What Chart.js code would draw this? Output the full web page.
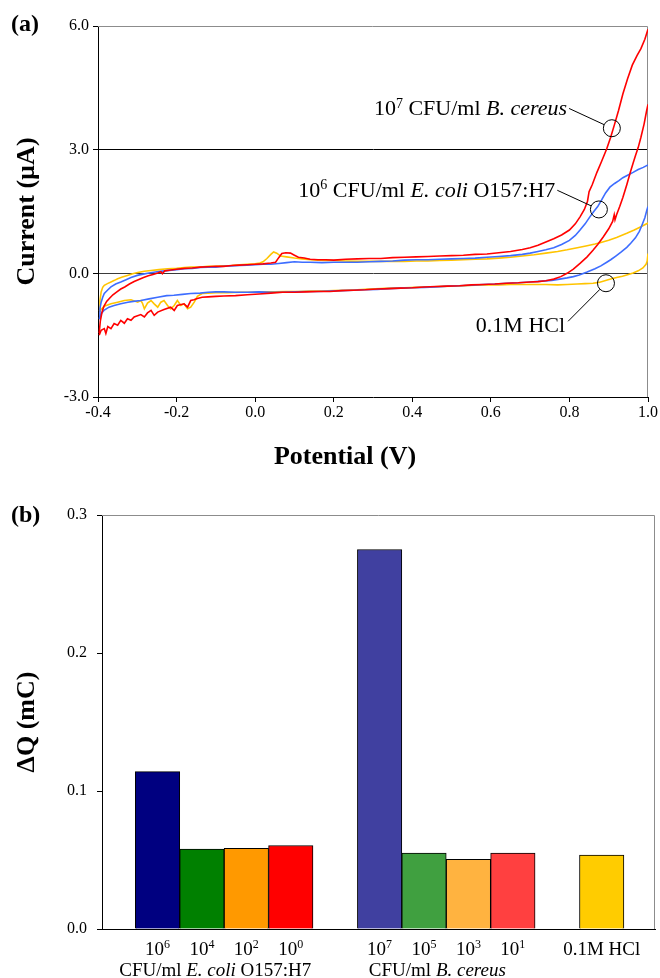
<!DOCTYPE html>
<html>
<head>
<meta charset="utf-8">
<script src="https://cdn.jsdelivr.net/npm/chart.js@4.4.1/dist/chart.umd.min.js"></script>
<style>
  body { margin: 0; background: #fff; }
  canvas { display: block; }
</style>
</head>
<body>
<canvas id="cv-chart" width="660" height="475"></canvas>
<canvas id="charge-chart" width="660" height="503"></canvas>
<script>
// --- CYCLIC VOLTAMMOGRAMS: [potential (V), current (uA)] ---
// forward = anodic sweep (upper trace), reverse = return sweep (lower trace)
const bCereusForward = [
  [-0.397,-1.45],[-0.394,-1.15],[-0.390,-0.95],[-0.385,-0.80],[-0.378,-0.68],[-0.370,-0.60],[-0.362,-0.52],
  [-0.352,-0.45],[-0.342,-0.38],[-0.332,-0.33],[-0.320,-0.26],[-0.308,-0.20],[-0.296,-0.15],[-0.284,-0.10],
  [-0.272,-0.06],[-0.260,-0.03],[-0.248,0.01],[-0.240,0.04],[-0.236,-0.01],[-0.230,0.06],[-0.215,0.08],
  [-0.200,0.10],[-0.180,0.12],[-0.160,0.13],[-0.140,0.15],[-0.120,0.16],[-0.100,0.17],[-0.080,0.17],
  [-0.060,0.19],[-0.040,0.20],[-0.020,0.21],[0.000,0.22],[0.020,0.23],[0.040,0.25],[0.052,0.27],
  [0.060,0.38],[0.068,0.48],[0.078,0.50],[0.090,0.49],[0.100,0.44],[0.110,0.39],[0.125,0.37],[0.140,0.34],
  [0.160,0.33],[0.180,0.33],[0.200,0.32],[0.230,0.34],[0.260,0.35],[0.290,0.36],[0.320,0.36],[0.350,0.38],
  [0.380,0.39],[0.410,0.40],[0.440,0.41],[0.470,0.42],[0.500,0.43],[0.530,0.44],[0.560,0.46],[0.590,0.47],
  [0.620,0.50],[0.650,0.53],[0.680,0.58],[0.700,0.62],[0.720,0.68],[0.740,0.76],[0.760,0.84],[0.780,0.93],
  [0.800,1.05],[0.815,1.20],[0.827,1.37],[0.838,1.55],[0.846,1.75],[0.850,1.98],[0.858,2.15],[0.870,2.45],
  [0.882,2.72],[0.895,3.02],[0.905,3.30],[0.915,3.62],[0.925,3.95],[0.936,4.35],[0.948,4.72],[0.960,5.05],
  [0.972,5.28],[0.982,5.45],[0.992,5.68],[1.000,5.92]
];
const bCereusReverse = [
  [1.000,4.10],[0.996,3.92],[0.990,3.62],[0.982,3.30],[0.975,3.05],[0.968,2.85],[0.962,2.67],[0.955,2.45],
  [0.946,2.15],[0.936,1.84],[0.928,1.62],[0.920,1.42],[0.916,1.30],[0.914,1.42],[0.910,1.26],[0.900,1.08],
  [0.886,0.88],[0.872,0.70],[0.860,0.56],[0.845,0.40],[0.827,0.24],[0.810,0.10],[0.794,0.00],[0.778,-0.08],
  [0.760,-0.14],[0.740,-0.18],[0.720,-0.20],[0.700,-0.21],[0.670,-0.23],[0.640,-0.24],[0.610,-0.26],
  [0.580,-0.27],[0.550,-0.28],[0.520,-0.30],[0.490,-0.31],[0.460,-0.32],[0.430,-0.33],[0.400,-0.35],
  [0.370,-0.36],[0.340,-0.37],[0.310,-0.38],[0.280,-0.40],[0.250,-0.41],[0.220,-0.42],[0.190,-0.44],
  [0.160,-0.44],[0.130,-0.45],[0.100,-0.46],[0.070,-0.46],[0.040,-0.48],[0.010,-0.50],[-0.020,-0.52],
  [-0.050,-0.54],[-0.080,-0.55],[-0.100,-0.56],[-0.120,-0.57],[-0.135,-0.58],[-0.147,-0.61],[-0.156,-0.64],
  [-0.164,-0.66],[-0.172,-0.82],[-0.181,-0.74],[-0.198,-0.78],[-0.206,-0.90],[-0.215,-0.82],[-0.232,-0.88],
  [-0.248,-0.94],[-0.257,-1.02],[-0.265,-0.90],[-0.274,-0.96],[-0.282,-1.06],[-0.291,-1.00],[-0.308,-1.06],
  [-0.316,-1.14],[-0.325,-1.10],[-0.333,-1.21],[-0.342,-1.14],[-0.350,-1.26],[-0.359,-1.22],[-0.367,-1.34],
  [-0.375,-1.29],[-0.380,-1.46],[-0.384,-1.34],[-0.392,-1.38],[-0.397,-1.50]
];
const eColiForward = [
  [-0.397,-1.10],[-0.395,-0.85],[-0.392,-0.70],[-0.388,-0.58],[-0.384,-0.49],[-0.376,-0.41],[-0.367,-0.33],
  [-0.355,-0.26],[-0.342,-0.21],[-0.330,-0.16],[-0.316,-0.10],[-0.300,-0.05],[-0.285,-0.02],[-0.270,0.01],
  [-0.250,0.04],[-0.230,0.06],[-0.200,0.09],[-0.180,0.11],[-0.160,0.12],[-0.140,0.14],[-0.120,0.15],
  [-0.100,0.15],[-0.080,0.17],[-0.060,0.18],[-0.040,0.19],[-0.020,0.20],[0.000,0.21],[0.020,0.22],
  [0.040,0.22],[0.060,0.24],[0.080,0.26],[0.100,0.28],[0.120,0.27],[0.140,0.27],[0.170,0.26],[0.200,0.27],
  [0.230,0.27],[0.260,0.27],[0.290,0.28],[0.320,0.29],[0.350,0.30],[0.380,0.32],[0.410,0.33],[0.440,0.33],
  [0.470,0.34],[0.500,0.35],[0.530,0.36],[0.560,0.37],[0.590,0.39],[0.620,0.41],[0.650,0.43],[0.680,0.46],
  [0.700,0.49],[0.720,0.53],[0.740,0.57],[0.760,0.62],[0.780,0.70],[0.800,0.80],[0.815,0.92],[0.827,1.05],
  [0.840,1.20],[0.852,1.37],[0.862,1.50],[0.872,1.62],[0.882,1.78],[0.892,1.95],[0.903,2.09],[0.915,2.18],
  [0.926,2.25],[0.936,2.32],[0.948,2.38],[0.962,2.45],[0.975,2.52],[0.988,2.57],[1.000,2.63]
];
const eColiReverse = [
  [1.000,1.62],[0.997,1.53],[0.992,1.35],[0.985,1.18],[0.978,1.02],[0.968,0.86],[0.956,0.73],[0.946,0.63],
  [0.932,0.52],[0.918,0.42],[0.905,0.33],[0.895,0.27],[0.880,0.18],[0.865,0.11],[0.845,0.03],[0.825,-0.04],
  [0.810,-0.08],[0.794,-0.11],[0.775,-0.14],[0.755,-0.17],[0.730,-0.19],[0.700,-0.21],[0.670,-0.23],
  [0.640,-0.24],[0.610,-0.26],[0.580,-0.27],[0.550,-0.29],[0.520,-0.30],[0.490,-0.31],[0.460,-0.33],
  [0.430,-0.34],[0.400,-0.35],[0.370,-0.36],[0.340,-0.37],[0.310,-0.39],[0.280,-0.40],[0.250,-0.41],
  [0.220,-0.42],[0.190,-0.43],[0.160,-0.44],[0.130,-0.44],[0.100,-0.45],[0.070,-0.46],[0.040,-0.46],
  [0.010,-0.45],[-0.020,-0.46],[-0.050,-0.46],[-0.080,-0.45],[-0.100,-0.45],[-0.120,-0.46],[-0.140,-0.48],
  [-0.164,-0.49],[-0.185,-0.51],[-0.207,-0.53],[-0.225,-0.54],[-0.248,-0.58],[-0.270,-0.62],[-0.291,-0.66],
  [-0.310,-0.68],[-0.324,-0.70],[-0.342,-0.74],[-0.359,-0.78],[-0.372,-0.82],[-0.385,-0.90],[-0.392,-0.98],
  [-0.397,-1.10]
];
const hclForward = [
  [-0.397,-0.92],[-0.395,-0.66],[-0.392,-0.45],[-0.388,-0.34],[-0.384,-0.29],[-0.376,-0.25],[-0.367,-0.21],
  [-0.358,-0.17],[-0.350,-0.13],[-0.338,-0.09],[-0.325,-0.05],[-0.312,-0.01],[-0.299,0.02],[-0.282,0.05],
  [-0.265,0.07],[-0.245,0.09],[-0.223,0.11],[-0.200,0.12],[-0.180,0.14],[-0.164,0.15],[-0.140,0.15],
  [-0.120,0.17],[-0.100,0.17],[-0.080,0.18],[-0.060,0.19],[-0.040,0.21],[-0.020,0.22],[0.000,0.23],
  [0.012,0.25],[0.020,0.28],[0.030,0.36],[0.040,0.46],[0.047,0.52],[0.055,0.49],[0.065,0.42],[0.080,0.40],
  [0.100,0.37],[0.120,0.35],[0.141,0.33],[0.160,0.32],[0.180,0.31],[0.200,0.31],[0.230,0.30],[0.260,0.29],
  [0.290,0.29],[0.320,0.29],[0.350,0.29],[0.380,0.29],[0.410,0.30],[0.440,0.30],[0.470,0.31],[0.500,0.32],
  [0.530,0.33],[0.560,0.34],[0.590,0.35],[0.620,0.37],[0.650,0.39],[0.680,0.42],[0.710,0.45],[0.740,0.49],
  [0.770,0.53],[0.794,0.57],[0.820,0.62],[0.845,0.67],[0.865,0.71],[0.878,0.74],[0.900,0.80],[0.920,0.87],
  [0.946,0.97],[0.965,1.05],[0.982,1.13],[1.000,1.22]
];
const hclReverse = [
  [1.000,0.48],[0.998,0.30],[0.995,0.22],[0.987,0.13],[0.975,0.06],[0.962,0.01],[0.950,-0.03],[0.935,-0.07],
  [0.920,-0.10],[0.905,-0.14],[0.890,-0.18],[0.875,-0.22],[0.860,-0.24],[0.840,-0.25],[0.820,-0.26],
  [0.794,-0.27],[0.770,-0.28],[0.740,-0.27],[0.710,-0.27],[0.680,-0.27],[0.650,-0.27],[0.620,-0.28],
  [0.590,-0.28],[0.560,-0.29],[0.530,-0.30],[0.500,-0.31],[0.470,-0.32],[0.440,-0.33],[0.410,-0.34],
  [0.380,-0.35],[0.350,-0.36],[0.320,-0.37],[0.290,-0.38],[0.260,-0.40],[0.230,-0.41],[0.200,-0.42],
  [0.170,-0.43],[0.140,-0.43],[0.110,-0.44],[0.080,-0.44],[0.050,-0.45],[0.020,-0.45],[-0.010,-0.46],
  [-0.040,-0.46],[-0.070,-0.47],[-0.100,-0.47],[-0.120,-0.48],[-0.135,-0.49],[-0.147,-0.56],[-0.155,-0.70],
  [-0.164,-0.82],[-0.172,-0.86],[-0.181,-0.74],[-0.189,-0.78],[-0.198,-0.66],[-0.206,-0.78],[-0.215,-0.86],
  [-0.223,-0.78],[-0.232,-0.66],[-0.240,-0.70],[-0.248,-0.82],[-0.257,-0.74],[-0.265,-0.66],[-0.274,-0.72],
  [-0.282,-0.86],[-0.287,-0.72],[-0.291,-0.66],[-0.299,-0.70],[-0.316,-0.64],[-0.333,-0.66],[-0.350,-0.70],
  [-0.367,-0.74],[-0.384,-0.80],[-0.397,-0.92]
];

// callout labels on the voltammogram (^ = superscript, _..._ = italic)
const calloutTexts = ['10^7 CFU/ml _B. cereus_', '10^6 CFU/ml _E. coli_ O157:H7', '0.1M HCl'];

// --- CHARGE DIFFERENCE BARS ---
const barLabels = ['10^6', '10^4', '10^2', '10^0', '10^7', '10^5', '10^3', '10^1', '0.1M HCl'];
const barSlots = [1, 2, 3, 4, 6, 7, 8, 9, 11];
const chargeValues = [0.114, 0.058, 0.0585, 0.0605, 0.275, 0.055, 0.0505, 0.055, 0.0535];
const groupLabels = ['CFU/ml _E. coli_ O157:H7', 'CFU/ml _B. cereus_'];
const groupSlots = [2.3, 7.3];

// --- STYLE ---
const SERIF = "'Liberation Serif', 'Times New Roman', serif";
const RED = '#FF0000', BLUE = '#3D6DFF', YELLOW = '#FFC400';
const barColors = ['#000080', '#008000', '#FF9900', '#FF0000', '#4040A0', '#40A040', '#FFB340', '#FF4040', '#FFCC00'];

// split "10^7 CFU/ml _B. cereus_" into plain / superscript / italic runs
function parseRich(str) {
  const parts = [];
  const re = /\^(\w+)|_([^_]+)_|([^^_]+)/g;
  let m;
  while ((m = re.exec(str))) {
    if (m[1]) parts.push({ t: m[1], sup: true });
    else if (m[2]) parts.push({ t: m[2], it: true });
    else parts.push({ t: m[3] });
  }
  return parts;
}

function drawRich(ctx, str, x, y, size, align) {
  const parts = parseRich(str);
  const fontFor = p => `${p.it ? 'italic ' : ''}${p.sup ? Math.round(size * 0.62) : size}px ${SERIF}`;
  let w = 0;
  parts.forEach(p => { ctx.font = fontFor(p); w += ctx.measureText(p.t).width; });
  let cx = align === 'right' ? x - w : align === 'center' ? x - w / 2 : x;
  ctx.textAlign = 'left';
  ctx.textBaseline = 'alphabetic';
  parts.forEach(p => {
    ctx.font = fontFor(p);
    ctx.fillText(p.t, cx, p.sup ? y - size * 0.36 : y);
    cx += ctx.measureText(p.t).width;
  });
  return w;
}

const fmt1 = v => (Math.abs(v) < 1e-9 ? 0 : v).toFixed(1);

// gray top / right edge of the plot area
const plotFrame = {
  id: 'plotFrame',
  beforeDatasetsDraw(chart) {
    const { ctx, chartArea: a } = chart;
    ctx.save();
    ctx.strokeStyle = '#8C8C8C';
    ctx.lineWidth = 1;
    ctx.beginPath();
    ctx.moveTo(a.left, a.top + 0.5);
    ctx.lineTo(a.right - 0.5, a.top + 0.5);
    ctx.lineTo(a.right - 0.5, a.bottom);
    ctx.stroke();
    ctx.restore();
  }
};

// --- (a) VOLTAMMOGRAM ---
const line = (data, color) => ({
  data: data,
  showLine: true,
  borderColor: color,
  borderWidth: 1.6,
  pointRadius: 0,
  tension: 0
});

const callouts = [
  { ring: [0.908, 3.52], label: [0.794, 3.83], lead: [2, -7] },
  { ring: [0.875, 1.55], label: [0.764, 1.845], lead: [2, -7] },
  { ring: [0.893, -0.24], label: [0.789, -1.43], lead: [3, -11] }
];

const cvDecor = {
  id: 'cvDecor',
  afterDraw(chart) {
    const { ctx, scales: { x, y } } = chart;
    ctx.save();
    ctx.fillStyle = '#000';
    ctx.strokeStyle = '#000';
    ctx.lineWidth = 1;
    callouts.forEach((c, i) => {
      const cx = x.getPixelForValue(c.ring[0]), cy = y.getPixelForValue(c.ring[1]);
      const lx = x.getPixelForValue(c.label[0]), ly = y.getPixelForValue(c.label[1]);
      drawRich(ctx, calloutTexts[i], lx, ly, 22, 'right');
      const r = 8.5;
      const sx = lx + c.lead[0], sy = ly + c.lead[1];
      const d = Math.hypot(cx - sx, cy - sy);
      ctx.beginPath();
      ctx.moveTo(sx, sy);
      ctx.lineTo(cx - (cx - sx) * r / d, cy - (cy - sy) * r / d);
      ctx.stroke();
      ctx.beginPath();
      ctx.arc(cx, cy, r, 0, Math.PI * 2);
      ctx.stroke();
    });
    ctx.font = `bold 26px ${SERIF}`;
    ctx.textAlign = 'center';
    ctx.fillText('Potential (V)', 345, 464);
    ctx.font = `bold 24px ${SERIF}`;
    ctx.textAlign = 'left';
    ctx.fillText('(a)', 11, 31);
    ctx.restore();
  }
};

new Chart(document.getElementById('cv-chart'), {
  type: 'scatter',
  data: {
    datasets: [
      line(bCereusForward, RED), line(bCereusReverse, RED),
      line(eColiForward, BLUE), line(eColiReverse, BLUE),
      line(hclForward, YELLOW), line(hclReverse, YELLOW)
    ]
  },
  options: {
    responsive: false,
    animation: false,
    devicePixelRatio: 1,
    layout: { padding: { top: 26, right: 12, left: 0, bottom: 0 } },
    plugins: { legend: { display: false }, tooltip: { enabled: false } },
    scales: {
      x: {
        type: 'linear',
        min: -0.4,
        max: 1.0,
        afterFit: s => { s.height = 78; },
        ticks: { stepSize: 0.2, color: '#000', padding: 1, maxRotation: 0, font: { family: SERIF, size: 16 }, callback: fmt1 },
        grid: { drawOnChartArea: false, tickLength: 5, tickColor: '#000' },
        border: { color: '#000', width: 1 }
      },
      y: {
        min: -3,
        max: 6,
        afterFit: s => { s.width = 98; },
        ticks: { stepSize: 3, color: '#000', padding: 4, font: { family: SERIF, size: 16 }, callback: fmt1 },
        grid: {
          color: c => c.tick && c.tick.value === 3 ? '#000' : c.tick && c.tick.value === 0 ? '#3A3A3A' : 'rgba(0,0,0,0)',
          tickColor: '#000',
          tickLength: 5
        },
        border: { color: '#000', width: 1 },
        title: {
          display: true,
          text: 'Current (µA)',
          color: '#000',
          font: { family: SERIF, size: 26, weight: 'bold' },
          padding: { top: 12, bottom: 0 }
        }
      }
    }
  },
  plugins: [plotFrame, cvDecor]
});

// --- (b) CHARGE BARS ---
const chargeDecor = {
  id: 'chargeDecor',
  afterDraw(chart) {
    const { ctx, chartArea: a, scales: { x } } = chart;
    ctx.save();
    ctx.fillStyle = '#000';
    barLabels.forEach((lab, i) => {
      drawRich(ctx, lab, x.getPixelForValue(barSlots[i]), a.bottom + 26, 19, 'center');
    });
    groupLabels.forEach((lab, i) => {
      drawRich(ctx, lab, x.getPixelForValue(groupSlots[i]), a.bottom + 47, 19, 'center');
    });
    ctx.font = `bold 24px ${SERIF}`;
    ctx.textAlign = 'left';
    ctx.textBaseline = 'alphabetic';
    ctx.fillText('(b)', 11, 47);
    ctx.restore();
  }
};

new Chart(document.getElementById('charge-chart'), {
  type: 'bar',
  data: {
    datasets: [{
      data: barSlots.map((s, i) => ({ x: s, y: chargeValues[i] })),
      backgroundColor: barColors,
      borderColor: '#000',
      borderWidth: 1,
      barPercentage: 1,
      categoryPercentage: 1
    }]
  },
  options: {
    responsive: false,
    animation: false,
    devicePixelRatio: 1,
    layout: { padding: { top: 40, right: 5, left: 0, bottom: 0 } },
    plugins: { legend: { display: false }, tooltip: { enabled: false } },
    scales: {
      x: {
        type: 'linear',
        offset: false,
        min: -0.25,
        max: 12.2,
        afterFit: s => { s.height = 49; },
        ticks: { display: false, stepSize: 1, includeBounds: false },
        grid: { display: false },
        border: { color: '#000', width: 1 }
      },
      y: {
        min: 0,
        max: 0.3,
        afterFit: s => { s.width = 102; },
        ticks: { stepSize: 0.1, color: '#000', padding: 10, font: { family: SERIF, size: 16 }, callback: fmt1 },
        grid: { drawOnChartArea: false, tickLength: 5, tickColor: '#000' },
        border: { color: '#000', width: 1 },
        title: {
          display: true,
          text: 'ΔQ (mC)',
          color: '#000',
          font: { family: SERIF, size: 26, weight: 'bold' },
          padding: { top: 12, bottom: 0 }
        }
      }
    }
  },
  plugins: [plotFrame, chargeDecor]
});
</script>
</body>
</html>
